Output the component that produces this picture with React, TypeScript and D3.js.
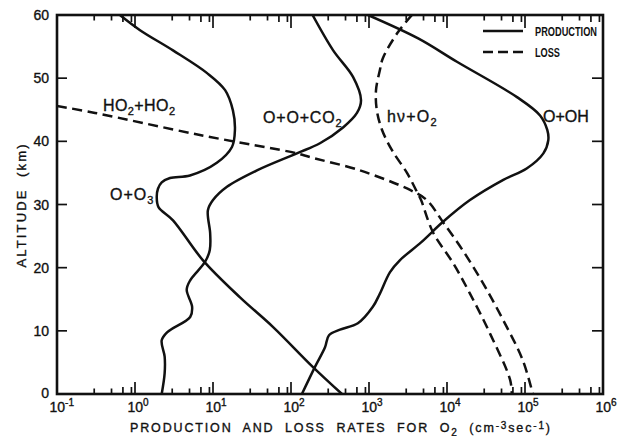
import React from 'react';
import * as d3 from 'd3';

// O2 production and loss rates versus altitude (cm^-3 s^-1)
const o3Alt = [60, 57.6, 54.4, 50.8, 48.1, 44.9, 41.8, 39.1, 36.6, 34.6, 34.2, 33.5, 32.5, 31.2, 29.6, 27.5, 21.2, 15.3, 10.6, 4.3, 0];
const o3Rate = [0.64, 1.16, 3.07, 8.4, 14.3, 18.0, 19.1, 17.5, 11.2, 5.07, 2.81, 2.2, 1.97, 1.9, 2.0, 3.07, 7.4, 22.2, 59, 190, 450];

const co2Alt = [60, 54.4, 50.2, 46.5, 44.5, 42.2, 39.7, 38.1, 35.4, 32.8, 30.7, 29.1, 25.4, 22.8, 20.9, 18.0, 16.5, 13.8, 12.2, 9.8, 8.5, 5.9, 3.3, 0];
const co2Rate = [189, 347, 624, 790, 701, 465, 235, 119, 36.6, 15.1, 10.0, 8.6, 9.2, 9.1, 7.9, 5.1, 4.6, 5.4, 5.1, 2.6, 2.2, 2.4, 2.4, 2.2];

const ohAlt = [60, 56.3, 52.6, 47.0, 44.1, 41.8, 40.2, 38.1, 35.7, 33.9, 30.7, 27.3, 24, 21.2, 19.3, 15.9, 13.8, 11.2, 10.2, 9.3, 7.4, 4.3, 0];
const ohRate = [970, 4270, 13400, 78900, 156000, 193000, 199000, 172000, 105000, 52700, 19700, 8970, 4650, 2500, 1860, 1380, 1120, 720, 425, 307, 273, 203, 138];

const hvAlt = [60, 57.3, 53.2, 51.3, 48.1, 44.9, 41.8, 38.6, 35, 32, 30.7, 25.6, 20.7, 15.9, 9.6, 2.2, 0];
const hvRate = [3560, 2360, 1510, 1380, 1230, 1260, 1470, 1970, 3070, 4120, 4650, 6610, 12000, 19700, 35500, 64600, 67600];

const ho2Alt = [45.6, 44.5, 41.0, 38.1, 37.5, 35.4, 32.3, 30.7, 27.2, 22.8, 17.6, 11.7, 5.4, 0];
const ho2Rate = [0.1, 0.307, 6.8, 119, 175, 767, 3360, 5500, 8900, 15800, 28800, 52500, 93300, 126000];

const decades = [-1, 0, 1, 2, 3, 4, 5, 6];
const minorMultipliers = [3, 5, 7, 9];
const altTicks = [0, 10, 20, 30, 40, 50, 60];

type Part = { t: string; sub?: boolean; sup?: boolean };

const curveLabels: { parts: Part[]; x: number; y: number; spacing: number }[] = [
  { parts: [{ t: 'HO' }, { t: '2', sub: true }, { t: '+HO' }, { t: '2', sub: true }], x: 103, y: 110.5, spacing: 0.4 },
  { parts: [{ t: 'O+O' }, { t: '3', sub: true }], x: 110, y: 200, spacing: 1 },
  { parts: [{ t: 'O+O+CO' }, { t: '2', sub: true }], x: 263, y: 123, spacing: 0.8 },
  { parts: [{ t: 'h\u03bd+O' }, { t: '2', sub: true }], x: 387, y: 122, spacing: 1.2 },
  { parts: [{ t: 'O+OH' }], x: 543, y: 122, spacing: 0 },
];

const X0 = 57, X1 = 603, Y0 = 394, Y1 = 15;

function renderParts(parts: Part[], subSize: number, shift: number) {
  let offset = 0;
  return parts.map((p, i) => {
    const target = p.sub ? shift : p.sup ? -shift : 0;
    const dy = target - offset;
    offset = target;
    return (
      <tspan key={i} dy={dy} fontSize={p.sub || p.sup ? subSize : undefined}>
        {p.t}
      </tspan>
    );
  });
}

export default function App() {
  const x = d3.scaleLog().domain([0.1, 1e6]).range([X0, X1]);
  const y = d3.scaleLinear().domain([0, 60]).range([Y0, Y1]);
  const line = d3
    .line<[number, number]>()
    .x((d) => x(d[0]))
    .y((d) => y(d[1]))
    .curve(d3.curveCatmullRom.alpha(0.5));

  const production = [
    d3.zip(o3Rate, o3Alt),
    d3.zip(co2Rate, co2Alt),
    d3.zip(ohRate, ohAlt),
  ] as [number, number][][];
  const loss = [d3.zip(hvRate, hvAlt), d3.zip(ho2Rate, ho2Alt)] as [number, number][][];

  const minors: { v: number; m: number }[] = [];
  decades.slice(0, -1).forEach((k) =>
    minorMultipliers.forEach((m) => minors.push({ v: m * Math.pow(10, k), m }))
  );

  const font = 'Liberation Sans, Arial, sans-serif';
  const ink = '#111';
  const textHeft = { stroke: ink, strokeWidth: 0.35 };

  return (
    <svg
      width={630}
      height={436}
      style={{ position: 'absolute', left: 0, top: 0, background: '#fff' }}
      fontFamily={font}
    >
      <rect width={630} height={436} fill="#fff" />
      <defs>
        <clipPath id="plotArea">
          <rect x={X0} y={Y1} width={X1 - X0} height={Y0 - Y1} />
        </clipPath>
      </defs>

      <g clipPath="url(#plotArea)" fill="none" stroke={ink} strokeWidth={2.5} strokeLinejoin="round">
        {production.map((pts, i) => (
          <path key={'p' + i} d={line(pts) || ''} />
        ))}
        {loss.map((pts, i) => (
          <path key={'l' + i} d={line(pts) || ''} strokeDasharray="10,5.5" />
        ))}
      </g>

      {/* frame */}
      <rect x={X0} y={Y1} width={X1 - X0} height={Y0 - Y1} fill="none" stroke={ink} strokeWidth={2.6} />

      {/* ticks on all four sides, pointing inward */}
      <g stroke={ink} strokeWidth={1.7}>
        {decades.map((k) => {
          const px = x(Math.pow(10, k));
          return (
            <g key={'M' + k}>
              <line x1={px} x2={px} y1={Y0} y2={Y0 - 12} />
              <line x1={px} x2={px} y1={Y1} y2={Y1 + 13} />
            </g>
          );
        })}
        {minors.map((d, i) => {
          const px = x(d.v);
          const len = d.m >= 7 ? 7 : 5.5;
          return (
            <g key={'m' + i}>
              <line x1={px} x2={px} y1={Y0} y2={Y0 - len} />
              <line x1={px} x2={px} y1={Y1} y2={Y1 + len} />
            </g>
          );
        })}
        {altTicks.slice(1, -1).map((a) => (
          <g key={'a' + a}>
            <line x1={X0} x2={X0 + 10} y1={y(a)} y2={y(a)} />
            <line x1={X1} x2={X1 - 11} y1={y(a)} y2={y(a)} />
          </g>
        ))}
      </g>

      {/* x tick labels: the "10" sits on the tick, the exponent trails it */}
      <g fill={ink} fontSize={14} {...textHeft}>
        {decades.map((k) => (
          <text key={'xl' + k} x={x(Math.pow(10, k)) - 7.5} y={412}>
            <tspan>10</tspan>
            <tspan fontSize={10} dy={-6}>
              {String(k)}
            </tspan>
          </text>
        ))}
      </g>

      {/* y tick labels */}
      <g fill={ink} fontSize={14} textAnchor="end" {...textHeft}>
        {altTicks.map((a) => (
          <text key={'yl' + a} x={49} y={a === 0 ? y(a) + 3.5 : y(a) + 5}>
            {a}
          </text>
        ))}
      </g>

      {/* axis titles */}
      <text
        transform="translate(26,206) rotate(-90)"
        textAnchor="middle"
        fontSize={13}
        fill={ink}
        textLength={123}
        lengthAdjust="spacing"
        style={{ whiteSpace: 'pre' }}
        {...textHeft}
      >
        {'ALTITUDE  (km)'}
      </text>
      <text
        x={130}
        y={432}
        fontSize={12.5}
        fill={ink}
        textLength={420}
        lengthAdjust="spacing"
        style={{ whiteSpace: 'pre' }}
        {...textHeft}
      >
        {renderParts(
          [
            { t: 'PRODUCTION  AND  LOSS  RATES  FOR  O' },
            { t: '2', sub: true },
            { t: '  (cm' },
            { t: '-3', sup: true },
            { t: 'sec' },
            { t: '-1', sup: true },
            { t: ')' },
          ],
          10,
          3.5
        )}
      </text>

      {/* curve labels */}
      <g fill={ink} fontSize={16} {...textHeft}>
        {curveLabels.map((l, i) => (
          <text key={'cl' + i} x={l.x} y={l.y} letterSpacing={l.spacing}>
            {renderParts(l.parts, 11, 4)}
          </text>
        ))}
      </g>

      {/* legend */}
      <g stroke={ink} strokeWidth={2.5}>
        <line x1={483} x2={523} y1={31} y2={31} />
        <line x1={483} x2={523} y1={52} y2={52} strokeDasharray="10,5" />
      </g>
      <g fill={ink} fontSize={13} fontWeight="bold">
        <text x={535} y={36} textLength={62} lengthAdjust="spacingAndGlyphs">
          PRODUCTION
        </text>
        <text x={535} y={57} textLength={25} lengthAdjust="spacingAndGlyphs">
          LOSS
        </text>
      </g>
    </svg>
  );
}
